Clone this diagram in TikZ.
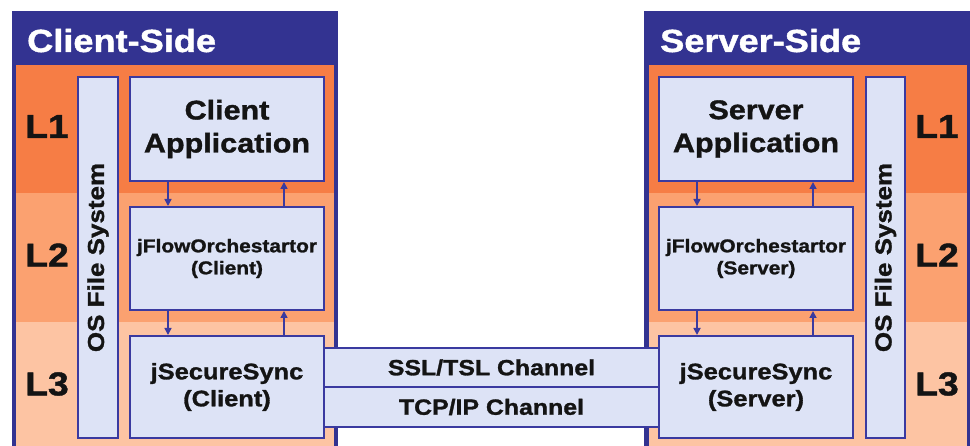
\documentclass[tikz,border=0pt]{standalone}
\usepackage{fontspec}
\setmainfont{Liberation Sans}[FakeStretch=1.13, BoldFeatures={FakeBold=1.3}]
\usetikzlibrary{arrows.meta}

\definecolor{panelblue}{RGB}{51,51,145}
\definecolor{boxline}{RGB}{58,58,160}
\definecolor{boxfill}{RGB}{221,227,246}
\definecolor{lone}{RGB}{246,125,69}
\definecolor{ltwo}{RGB}{251,161,112}
\definecolor{lthree}{RGB}{253,196,163}

\newcommand{\fsz}[2]{\bfseries\fontsize{#1}{#2}\selectfont}

\tikzset{
  headtext/.style={text=white, font=\fsz{32}{36}, inner sep=0pt},
  lvl/.style={text=black!92, font=\fsz{33}{36}, inner sep=0pt},
  box/.style={draw=boxline, line width=2pt, fill=boxfill, inner sep=0pt,
              align=center, text=black!92},
  apptext/.style={font=\fsz{27}{33}},
  flowtext/.style={font=\fsz{18.5}{22}},
  synctext/.style={font=\fsz{22.5}{27}},
  ostext/.style={font=\fsz{23}{26}},
  chan/.style={box, font=\fsz{22}{26}},
  arr/.style={draw=boxline, line width=1.6pt, -{Triangle[length=7pt,width=7pt]}}
}

\begin{document}
\begin{tikzpicture}[x=1pt,y=-1pt]
\clip (0,0) rectangle (970,446);
\fill[white] (0,0) rectangle (970,446);

% client panel with its three layer bands
\fill[panelblue] (12,11) rectangle (338,450);
\fill[lone]   (16,65)  rectangle (334,193);
\fill[ltwo]   (16,193) rectangle (334,322);
\fill[lthree] (16,322) rectangle (334,450);

% server panel with its three layer bands
\fill[panelblue] (644,11) rectangle (972,450);
\fill[lone]   (649,65)  rectangle (967,193);
\fill[ltwo]   (649,193) rectangle (967,322);
\fill[lthree] (649,322) rectangle (967,450);

% panel titles
\node[headtext, anchor=base west] (chead) at (27,52) {Client-Side};
\node[headtext, anchor=base west] (shead) at (660,52) {Server-Side};

% layer labels
\node[lvl] (cl1) at (47,126.5) {L1};
\node[lvl] (cl2) at (47,255) {L2};
\node[lvl] (cl3) at (47,384) {L3};
\node[lvl] (sl1) at (937,126.5) {L1};
\node[lvl] (sl2) at (937,255) {L2};
\node[lvl] (sl3) at (937,384) {L3};

% channels between the two sync modules
\node[chan, minimum width=337pt, minimum height=39pt] (ssl) at (491.5,367.5) {SSL/TSL Channel};
\node[chan, minimum width=337pt, minimum height=40pt] (tcp) at (491.5,407) {TCP/IP Channel};

% client modules
\node[box, ostext, rotate=90, minimum width=361pt, minimum height=40pt] (cos) at (98,257.5) {OS File System};
\node[box, apptext, minimum width=194pt, minimum height=104pt] (ca) at (227,129) {Client\\Application};
\node[box, flowtext, minimum width=194pt, minimum height=103pt] (cf) at (227,258.5) {jFlowOrchestartor\\(Client)};
\node[box, synctext, minimum width=194pt, minimum height=102pt] (cs) at (227,387) {jSecureSync\\(Client)};

% server modules
\node[box, ostext, rotate=90, minimum width=361pt, minimum height=39pt] (sos) at (885.5,257.5) {OS File System};
\node[box, apptext, minimum width=194pt, minimum height=104pt] (sa) at (756,129) {Server\\Application};
\node[box, flowtext, minimum width=194pt, minimum height=103pt] (sf) at (756,258.5) {jFlowOrchestartor\\(Server)};
\node[box, synctext, minimum width=194pt, minimum height=102pt] (ss) at (756,387) {jSecureSync\\(Server)};

% calls down and returns up, client side
\draw[arr] ([xshift=39pt]ca.south west) -- ([xshift=39pt]cf.north west);
\draw[arr] ([xshift=155pt]cf.north west) -- ([xshift=155pt]ca.south west);
\draw[arr] ([xshift=39pt]cf.south west) -- ([xshift=39pt]cs.north west);
\draw[arr] ([xshift=155pt]cs.north west) -- ([xshift=155pt]cf.south west);

% calls down and returns up, server side
\draw[arr] ([xshift=39pt]sa.south west) -- ([xshift=39pt]sf.north west);
\draw[arr] ([xshift=155pt]sf.north west) -- ([xshift=155pt]sa.south west);
\draw[arr] ([xshift=39pt]sf.south west) -- ([xshift=39pt]ss.north west);
\draw[arr] ([xshift=155pt]ss.north west) -- ([xshift=155pt]sf.south west);
\end{tikzpicture}
\end{document}
